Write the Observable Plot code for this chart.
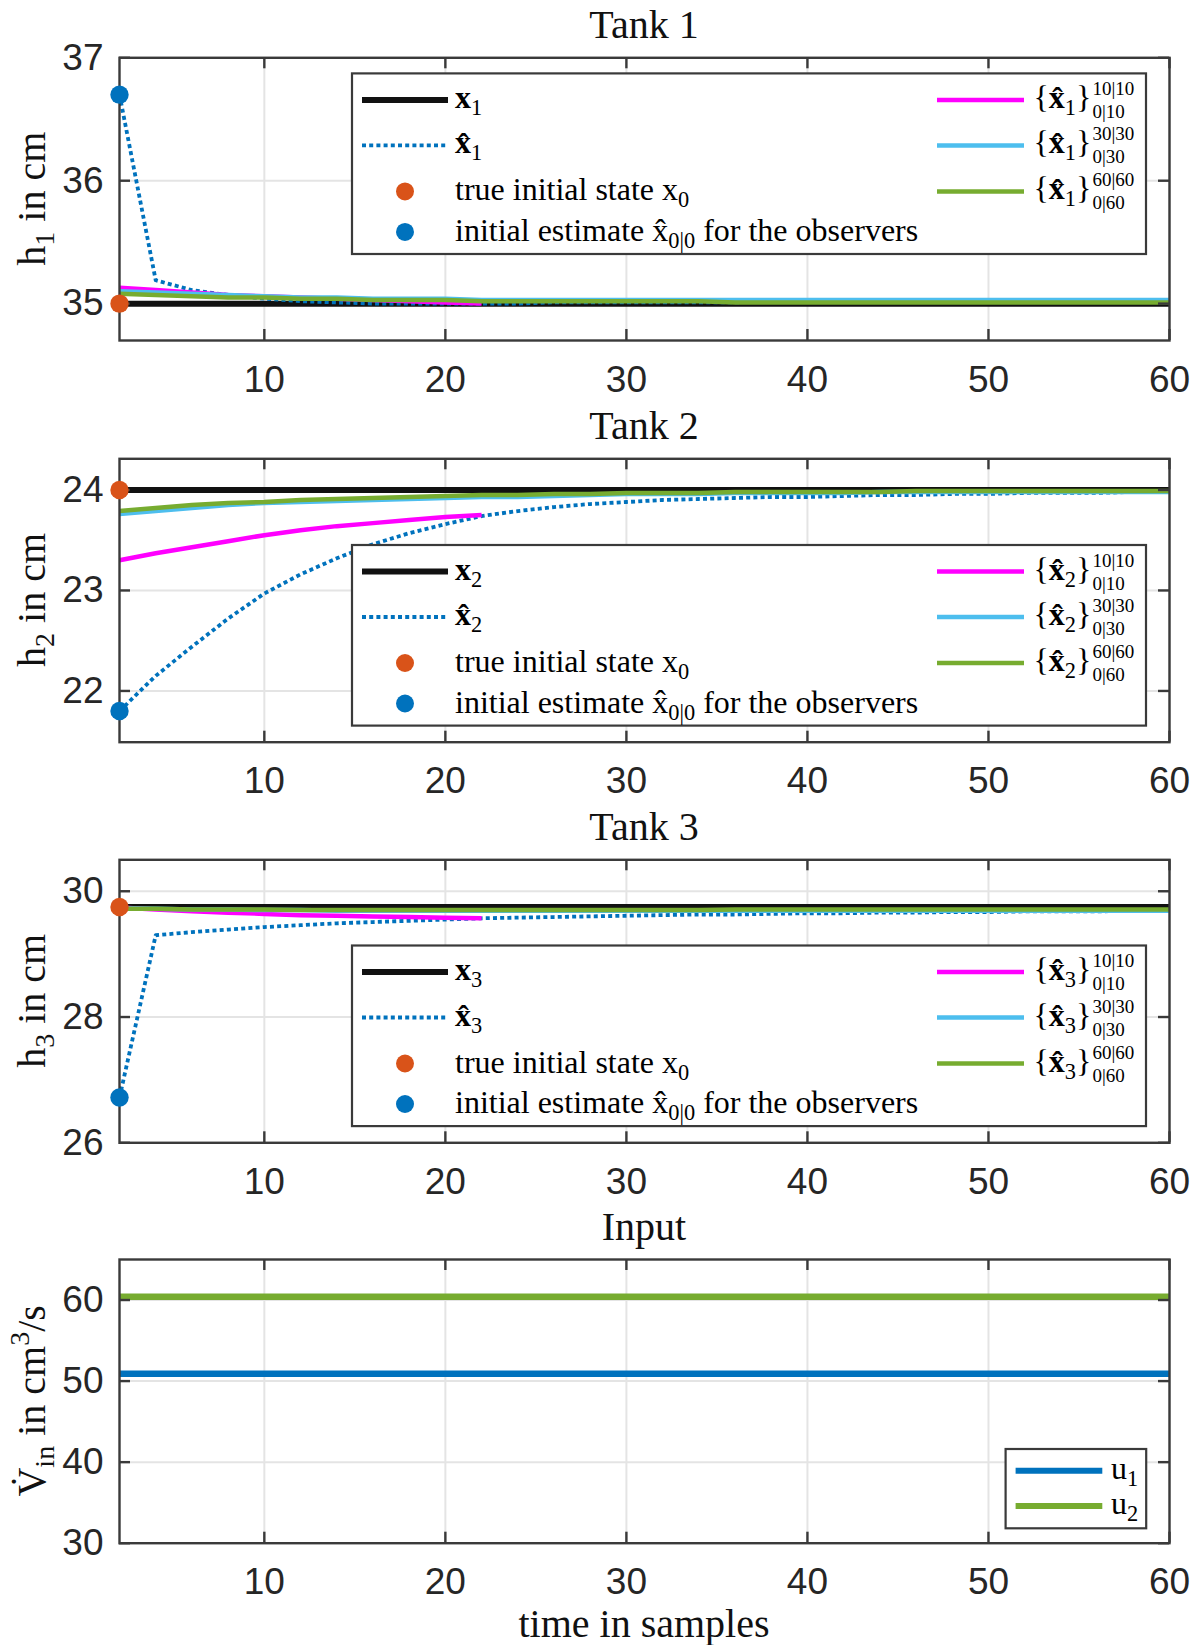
<!DOCTYPE html>
<html><head><meta charset="utf-8">
<script src="https://cdn.jsdelivr.net/npm/d3@7"></script>
<script src="https://cdn.jsdelivr.net/npm/@observablehq/plot@0.6"></script>
<style>
body{margin:0;background:#fff}
#chart{width:1199px;height:1645px;position:relative;background:#fff}
#chart svg{display:block}
</style>
</head><body><div id="chart"></div>
<script>
// ---------- data ----------
const time = [2,4,6,8,10,12,14,16,18,20,22,24,26,28,30,32,34,36,38,40,42,44,46,48,50,52,54,56,58,60];
const time10 = [2,4,6,8,10,12,14,16,18,20,22];
const xTicks = [10,20,30,40,50,60];

// Tank 1
const x1True = [35,35,35,35,35,35,35,35,35,35,35,35,35,35,35,35,35,35,35,35,35,35,35,35,35,35,35,35,35,35];
const x1Hat  = [36.70,35.19,35.11,35.07,35.04,35.02,35.01,35.00,35.00,35.00,35.00,35.00,35.01,35.01,35.01,35.01,35.01,35.01,35.02,35.02,35.02,35.02,35.02,35.02,35.02,35.02,35.02,35.02,35.02,35.02];
const x1M10  = [35.13,35.11,35.09,35.07,35.06,35.05,35.04,35.03,35.02,35.01,35.00];
const x1M30  = [35.10,35.09,35.08,35.07,35.06,35.05,35.05,35.04,35.04,35.04,35.03,35.03,35.03,35.03,35.03,35.03,35.03,35.03,35.03,35.03,35.03,35.03,35.03,35.03,35.03,35.03,35.03,35.03,35.03,35.03];
const x1M60  = [35.08,35.07,35.06,35.05,35.05,35.04,35.04,35.03,35.03,35.03,35.02,35.02,35.02,35.02,35.02,35.02,35.02,35.01,35.01,35.01,35.01,35.01,35.01,35.01,35.01,35.01,35.01,35.01,35.01,35.01];
const y1Ticks = [35,36,37];

// Tank 2
const x2True = [24,24,24,24,24,24,24,24,24,24,24,24,24,24,24,24,24,24,24,24,24,24,24,24,24,24,24,24,24,24];
const x2Hat  = [21.80,22.15,22.44,22.72,22.97,23.16,23.32,23.46,23.57,23.66,23.74,23.79,23.83,23.86,23.88,23.90,23.91,23.92,23.93,23.93,23.94,23.95,23.95,23.96,23.96,23.97,23.97,23.97,23.98,23.98];
const x2M10  = [23.30,23.37,23.43,23.49,23.55,23.60,23.64,23.67,23.70,23.73,23.75];
const x2M30  = [23.76,23.79,23.82,23.85,23.87,23.88,23.89,23.90,23.91,23.92,23.93,23.93,23.94,23.95,23.96,23.96,23.96,23.97,23.97,23.97,23.97,23.98,23.98,23.98,23.98,23.98,23.98,23.98,23.98,23.98];
const x2M60  = [23.79,23.82,23.85,23.87,23.88,23.90,23.91,23.92,23.93,23.94,23.95,23.95,23.96,23.96,23.97,23.97,23.97,23.98,23.98,23.98,23.98,23.98,23.99,23.99,23.99,23.99,23.99,23.99,23.99,23.99];
const y2Ticks = [22,23,24];

// Tank 3
const x3True = [29.75,29.75,29.75,29.75,29.75,29.75,29.75,29.75,29.75,29.75,29.75,29.75,29.75,29.75,29.75,29.75,29.75,29.75,29.75,29.75,29.75,29.75,29.75,29.75,29.75,29.75,29.75,29.75,29.75,29.75];
const x3Hat  = [26.72,29.30,29.35,29.39,29.43,29.46,29.49,29.51,29.53,29.55,29.57,29.58,29.59,29.60,29.61,29.62,29.63,29.63,29.64,29.65,29.65,29.66,29.66,29.67,29.67,29.68,29.68,29.68,29.69,29.69];
const x3M10  = [29.74,29.71,29.68,29.66,29.64,29.62,29.61,29.60,29.59,29.58,29.57];
const x3M30  = [29.73,29.72,29.71,29.71,29.70,29.70,29.69,29.69,29.69,29.69,29.69,29.69,29.69,29.69,29.69,29.69,29.69,29.69,29.69,29.69,29.69,29.69,29.69,29.69,29.69,29.69,29.69,29.69,29.69,29.69];
const x3M60  = [29.72,29.72,29.71,29.71,29.71,29.70,29.70,29.70,29.70,29.70,29.70,29.70,29.70,29.70,29.70,29.70,29.70,29.71,29.71,29.71,29.71,29.71,29.71,29.71,29.71,29.71,29.71,29.71,29.71,29.71];
const y3Ticks = [26,28,30];

// Initial states
const x0True = [35.0, 24.0, 29.75];
const x0Est  = [36.70, 21.80, 26.72];

// Input
const u1 = [50.9,50.9,50.9,50.9,50.9,50.9,50.9,50.9,50.9,50.9,50.9,50.9,50.9,50.9,50.9,50.9,50.9,50.9,50.9,50.9,50.9,50.9,50.9,50.9,50.9,50.9,50.9,50.9,50.9,50.9];
const u2 = [60.4,60.4,60.4,60.4,60.4,60.4,60.4,60.4,60.4,60.4,60.4,60.4,60.4,60.4,60.4,60.4,60.4,60.4,60.4,60.4,60.4,60.4,60.4,60.4,60.4,60.4,60.4,60.4,60.4,60.4];
const y4Ticks = [30,40,50,60];

// ---------- styling ----------
const SERIF = "'Liberation Serif','Times New Roman',serif";
const SANS = "'Liberation Sans',Arial,sans-serif";
const AX = "#3a3a3a", GRID = "#e4e4e4";
const C = {black:"#111111", blue:"#0072BD", orange:"#D95319", magenta:"#FF00FF", cyan:"#4DBEEE", green:"#77AC30"};
const DOT = "4,3.2", DOTW = 3.8;
const ML = 119, MR = 30, W = 1199;

const pts = (ts, vs) => ts.map((t, i) => ({t, v: vs[i]}));
const chart = document.getElementById("chart");

function makePanel(cfg) {
  const fh = cfg.height - cfg.mt - cfg.mb;
  const fw = W - ML - MR;
  const tk = {stroke: AX, strokeWidth: 2.4};
  const marks = [
    Plot.ruleX(xTicks, {x: d => d, stroke: GRID, strokeWidth: 2}),
    Plot.ruleY(cfg.yTicks, {y: d => d, stroke: GRID, strokeWidth: 2}),
    ...cfg.lines.map(l => Plot.line(pts(l.t, l.v), {x: "t", y: "v", stroke: l.color, strokeWidth: l.w,
      strokeDasharray: l.dash, strokeLinecap: "butt", strokeLinejoin: "round"})),
    Plot.frame({stroke: AX, strokeWidth: 2.4}),
    Plot.tickX(xTicks, {x: d => d, insetTop: fh - 11, ...tk}),
    Plot.tickX(xTicks, {x: d => d, insetBottom: fh - 11, ...tk}),
    Plot.tickY(cfg.yTicks, {y: d => d, insetRight: fw - 11, ...tk}),
    Plot.tickY(cfg.yTicks, {y: d => d, insetLeft: fw - 11, ...tk}),
    ...(cfg.dots || []).map(d => Plot.dot([{t: 2, v: d.v}], {x: "t", y: "v", r: 9.2, fill: d.color, stroke: "none"}))
  ];
  const svg = Plot.plot({
    width: W, height: cfg.height, marginLeft: ML, marginRight: MR, marginTop: cfg.mt, marginBottom: cfg.mb,
    x: {domain: [2, 60], ticks: xTicks, tickSize: 0, tickPadding: 25, label: null, tickFormat: d => String(d)},
    y: {domain: cfg.yDomain, ticks: cfg.yTicks, tickSize: 0, tickPadding: 16, label: null, tickFormat: d => String(d)},
    style: {fontFamily: SANS, fontSize: "37px", color: "#262626", background: "#fff", overflow: "visible"},
    marks
  });
  chart.appendChild(svg);
  return svg;
}

// rich text with sub/superscripts using relative dy shifts (single text chunk)
function rich(parent, x, y, parts, size, opts = {}) {
  const text = parent.append("text").attr("x", x).attr("y", y)
    .attr("font-family", SERIF).attr("font-size", size).attr("fill", opts.fill || "#000")
    .attr("text-anchor", opts.anchor || "start");
  if (opts.transform) text.attr("transform", opts.transform);
  let cur = 0;
  for (const p of parts) {
    const ts = text.append("tspan").text(p.t);
    const small = p.sub || p.sup;
    ts.attr("font-size", small ? size * (p.scale || 0.7) : size);
    if (p.bold) ts.attr("font-weight", "bold");
    const off = p.sub ? size * (p.shift || 0.22) : p.sup ? -size * 0.4 : 0;
    if (off !== cur) ts.attr("dy", off - cur);
    cur = off;
  }
  return text;
}

function titleAndYLabel(svg, cfg, title, ylabelParts) {
  const s = d3.select(svg);
  const cx = ML + (W - ML - MR) / 2;
  rich(s, cx, cfg.mt - 19, [{t: title}], 40, {anchor: "middle", fill: "#111"});
  const cy = cfg.mt + (cfg.height - cfg.mt - cfg.mb) / 2;
  rich(s, 0, 0, ylabelParts, 40, {anchor: "middle", fill: "#111", transform: `translate(45,${cy}) rotate(-90)`});
}

function tankLegend(svg, boxTop, k) {
  const s = d3.select(svg);
  const g = s.append("g");
  g.append("rect").attr("x", 352).attr("y", boxTop).attr("width", 794).attr("height", 180.6)
    .attr("fill", "#fff").attr("stroke", AX).attr("stroke-width", 2.2);
  const rows = [26.5, 72, 118, 158.5].map(r => boxTop + r);
  const n = String(k);
  // left column
  g.append("line").attr("x1", 362).attr("x2", 448).attr("y1", rows[0]).attr("y2", rows[0]).attr("stroke", C.black).attr("stroke-width", 6);
  rich(g, 455, rows[0] + 8, [{t: "x", bold: true}, {t: n, sub: true}], 32);
  g.append("line").attr("x1", 362).attr("x2", 448).attr("y1", rows[1]).attr("y2", rows[1]).attr("stroke", C.blue)
    .attr("stroke-width", DOTW).attr("stroke-dasharray", DOT);
  rich(g, 455, rows[1] + 8, [{t: "x\u0302", bold: true}, {t: n, sub: true}], 32);
  g.append("circle").attr("cx", 405).attr("cy", rows[2]).attr("r", 9).attr("fill", C.orange);
  rich(g, 455, rows[2] + 9, [{t: "true initial state x"}, {t: "0", sub: true}], 32);
  g.append("circle").attr("cx", 405).attr("cy", rows[3]).attr("r", 9).attr("fill", C.blue);
  rich(g, 455, rows[3] + 9, [{t: "initial estimate x\u0302"}, {t: "0|0", sub: true}, {t: " for the observers"}], 32);
  // right column
  const right = [["10", C.magenta], ["30", C.cyan], ["60", C.green]];
  right.forEach(([N, col], i) => {
    const y = rows[i];
    g.append("line").attr("x1", 937).attr("x2", 1024).attr("y1", y).attr("y2", y).attr("stroke", col).attr("stroke-width", 4.5);
    const t = rich(g, 1033.5, y + 8, [{t: "{"}, {t: "x\u0302", bold: true}, {t: n, sub: true}, {t: "}"}], 32);
    const xe = 1033.5 + t.node().getComputedTextLength() + 1;
    rich(g, xe, y - 5, [{t: `${N}|${N}`}], 19);
    rich(g, xe, y + 18, [{t: `0|${N}`}], 19);
  });
}

// ---------- panels ----------
const p1 = {height: 400, mt: 57.3, mb: 60, yDomain: [34.7, 37], yTicks: y1Ticks,
  lines: [
    {t: time, v: x1True, color: C.black, w: 6},
    {t: time, v: x1Hat, color: C.blue, w: DOTW, dash: DOT},
    {t: time10, v: x1M10, color: C.magenta, w: 4.5},
    {t: time, v: x1M30, color: C.cyan, w: 4.5},
    {t: time, v: x1M60, color: C.green, w: 4.5}],
  dots: [{v: x0True[0], color: C.orange}, {v: x0Est[0], color: C.blue}]};
const s1 = makePanel(p1);
titleAndYLabel(s1, p1, "Tank 1", [{t: "h"}, {t: "1", sub: true}, {t: " in cm"}]);
tankLegend(s1, 73.4, 1);

const p2 = {height: 400, mt: 58.3, mb: 58.3, yDomain: [21.49, 24.31], yTicks: y2Ticks,
  lines: [
    {t: time, v: x2True, color: C.black, w: 6},
    {t: time, v: x2Hat, color: C.blue, w: DOTW, dash: DOT},
    {t: time10, v: x2M10, color: C.magenta, w: 4.5},
    {t: time, v: x2M30, color: C.cyan, w: 4.5},
    {t: time, v: x2M60, color: C.green, w: 4.5}],
  dots: [{v: x0True[1], color: C.orange}, {v: x0Est[1], color: C.blue}]};
const s2 = makePanel(p2);
titleAndYLabel(s2, p2, "Tank 2", [{t: "h"}, {t: "2", sub: true}, {t: " in cm"}]);
tankLegend(s2, 145, 2);

const p3 = {height: 400, mt: 59.3, mb: 57.7, yDomain: [26, 30.5], yTicks: y3Ticks,
  lines: [
    {t: time, v: x3True, color: C.black, w: 6},
    {t: time, v: x3Hat, color: C.blue, w: DOTW, dash: DOT},
    {t: time10, v: x3M10, color: C.magenta, w: 4.5},
    {t: time, v: x3M30, color: C.cyan, w: 4.5},
    {t: time, v: x3M60, color: C.green, w: 4.5}],
  dots: [{v: x0True[2], color: C.orange}, {v: x0Est[2], color: C.blue}]};
const s3 = makePanel(p3);
titleAndYLabel(s3, p3, "Tank 3", [{t: "h"}, {t: "3", sub: true}, {t: " in cm"}]);
tankLegend(s3, 145.5, 3);

const p4 = {height: 445, mt: 59, mb: 102.3, yDomain: [30, 65], yTicks: y4Ticks,
  lines: [
    {t: time, v: u1, color: C.blue, w: 6.5},
    {t: time, v: u2, color: C.green, w: 6.5}]};
const s4 = makePanel(p4);
titleAndYLabel(s4, p4, "Input", [{t: "V\u0307"}, {t: "in", sub: true}, {t: " in cm"}, {t: "3", sup: true}, {t: "/s"}]);
{
  const g = d3.select(s4).append("g");
  g.append("rect").attr("x", 1005.6).attr("y", 249).attr("width", 140.6).attr("height", 79.3)
    .attr("fill", "#fff").attr("stroke", AX).attr("stroke-width", 2.2);
  [[u1, C.blue, "1", 270.7], [u2, C.green, "2", 306]].forEach(([_, col, n, y]) => {
    g.append("line").attr("x1", 1015.6).attr("x2", 1102.3).attr("y1", y).attr("y2", y).attr("stroke", col).attr("stroke-width", 6);
    rich(g, 1111, y + 8, [{t: "u"}, {t: n, sub: true}], 32);
  });
  rich(d3.select(s4), ML + (W - ML - MR) / 2, 437, [{t: "time in samples"}], 40, {anchor: "middle", fill: "#111"});
}
</script></body></html>
